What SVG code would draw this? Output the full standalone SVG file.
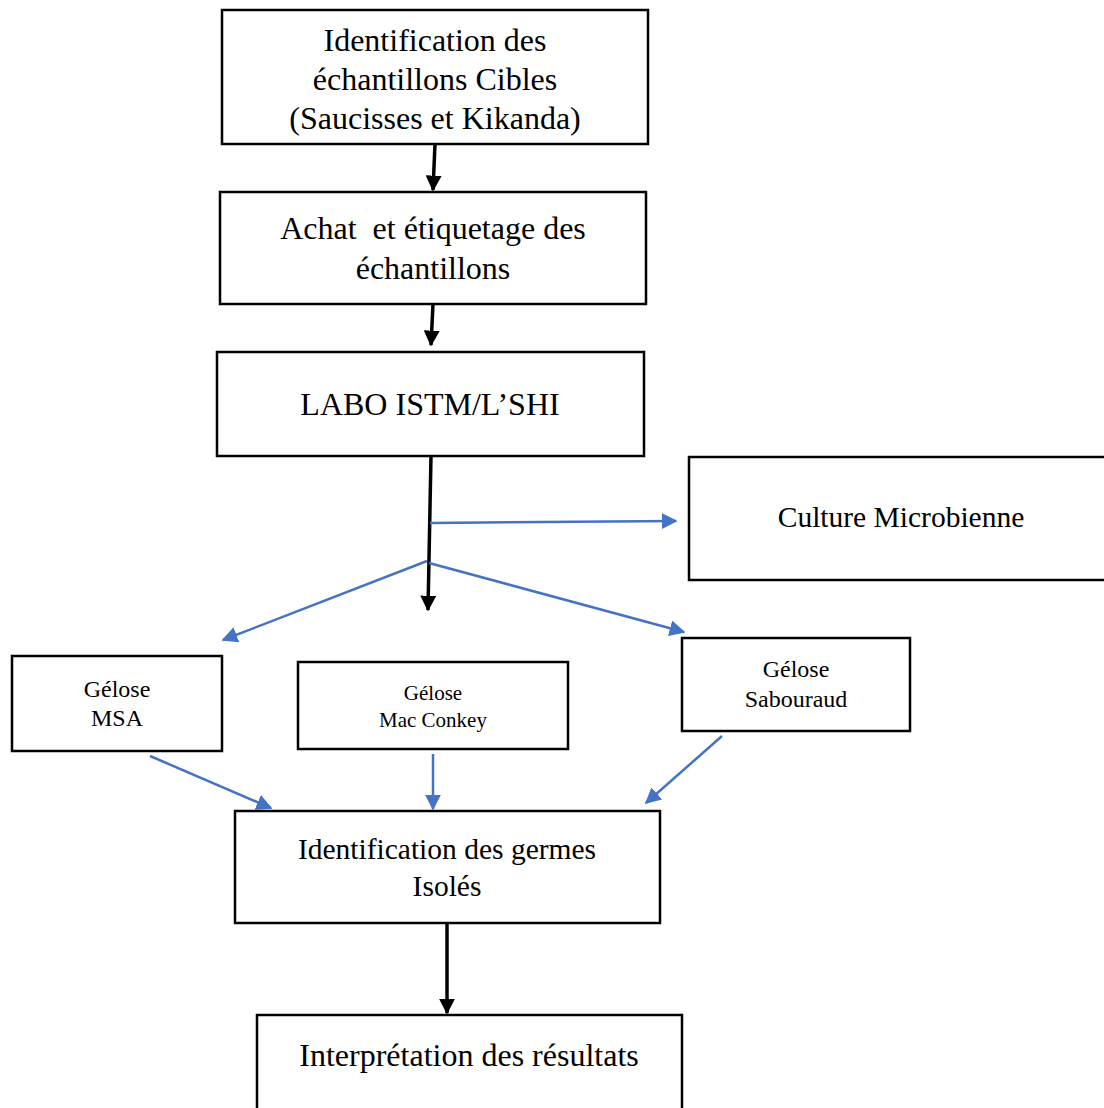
<svg xmlns="http://www.w3.org/2000/svg" width="1104" height="1108" viewBox="0 0 1104 1108">
<style>
.box{fill:#fff;stroke:#000;stroke-width:2.5}
.t{font-family:"Liberation Serif","Times New Roman",serif;fill:#000;text-anchor:middle}
.big{font-size:32px}
.mid{font-size:29.5px}
.sm{font-size:24px}
.xs{font-size:21px}
.blk{stroke:#000;stroke-width:3.5;fill:none}
.blu{stroke:#4472C4;stroke-width:2.5;fill:none}
</style>
<defs>
<marker id="abk" viewBox="0 0 10 10" refX="9" refY="5" markerWidth="16" markerHeight="16" orient="auto" markerUnits="userSpaceOnUse"><path d="M0,0 L10,5 L0,10 z" fill="#000"/></marker>
<marker id="abl" viewBox="0 0 10 10" refX="9" refY="5" markerWidth="16" markerHeight="16" orient="auto" markerUnits="userSpaceOnUse"><path d="M0,0 L10,5 L0,10 z" fill="#4472C4"/></marker>
</defs>
<rect width="1104" height="1108" fill="#fff"/>
<g id="connectors">
<line class="blk" x1="435" y1="144" x2="433" y2="190" marker-end="url(#abk)"/>
<line class="blk" x1="433" y1="304" x2="431" y2="345" marker-end="url(#abk)"/>
<line class="blk" x1="431" y1="456" x2="428" y2="610" marker-end="url(#abk)"/>
<line class="blu" x1="430" y1="523" x2="676" y2="521" marker-end="url(#abl)"/>
<line class="blu" x1="427" y1="561" x2="223" y2="640" marker-end="url(#abl)"/>
<line class="blu" x1="429" y1="563" x2="684" y2="632" marker-end="url(#abl)"/>
<line class="blu" x1="150" y1="756" x2="271" y2="808" marker-end="url(#abl)"/>
<line class="blu" x1="433" y1="754" x2="433" y2="809" marker-end="url(#abl)"/>
<line class="blu" x1="722" y1="736" x2="646" y2="803" marker-end="url(#abl)"/>
<line class="blk" x1="447" y1="923" x2="447" y2="1013" marker-end="url(#abk)"/>
</g>
<g id="n1"><rect class="box" x="222" y="10" width="426" height="134"/>
<text class="t big" x="435" y="51">Identification des</text>
<text class="t big" x="435" y="90">échantillons Cibles</text>
<text class="t big" x="435" y="129">(Saucisses et Kikanda)</text></g>
<g id="n2"><rect class="box" x="220" y="192" width="426" height="112"/>
<text class="t big" x="433" y="239" xml:space="preserve">Achat  et étiquetage des</text>
<text class="t big" x="433" y="279">échantillons</text></g>
<g id="n3"><rect class="box" x="217" y="352" width="427" height="104"/>
<text class="t big" x="430" y="415">LABO ISTM/L’SHI</text></g>
<g id="n4"><rect class="box" x="689" y="457" width="420" height="123"/>
<text class="t mid" x="901" y="527">Culture Microbienne</text></g>
<g id="n5"><rect class="box" x="12" y="656" width="210" height="95"/>
<text class="t sm" x="117" y="697">Gélose</text>
<text class="t sm" x="117" y="726">MSA</text></g>
<g id="n6"><rect class="box" x="298" y="662" width="270" height="87"/>
<text class="t xs" x="433" y="700">Gélose</text>
<text class="t xs" x="433" y="727">Mac Conkey</text></g>
<g id="n7"><rect class="box" x="682" y="638" width="228" height="93"/>
<text class="t sm" x="796" y="677">Gélose</text>
<text class="t sm" x="796" y="707">Sabouraud</text></g>
<g id="n8"><rect class="box" x="235" y="811" width="425" height="112"/>
<text class="t mid" x="447" y="859">Identification des germes</text>
<text class="t mid" x="447" y="896">Isolés</text></g>
<g id="n9"><rect class="box" x="257" y="1015" width="425" height="100"/>
<text class="t big" x="469" y="1066">Interprétation des résultats</text></g>
</svg>
